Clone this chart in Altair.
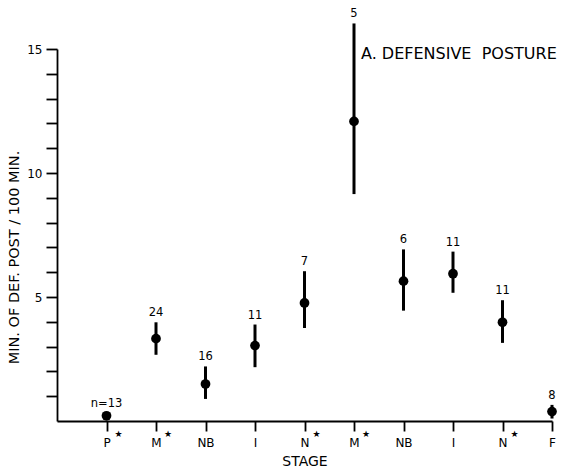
import altair as alt
import pandas as pd

stages = ["P", "M", "NB", "I", "N", "M", "NB", "I", "N", "F"]
starred = [True, True, False, False, True, True, False, False, True, False]
positions = [1, 2, 3, 4, 5, 6, 7, 8, 9, 10]
means = [0.21, 3.32, 1.49, 3.04, 4.76, 12.08, 5.64, 5.94, 3.98, 0.38]
lows = [0.21, 2.67, 0.89, 2.17, 3.75, 9.15, 4.45, 5.17, 3.15, 0.10]
highs = [0.32, 3.98, 2.20, 3.89, 6.04, 16.03, 6.92, 6.83, 4.87, 0.65]
n_labels = ["n=13", "24", "16", "11", "7", "5", "6", "11", "11", "8"]
y_ticks = list(range(1, 16))

df = pd.DataFrame({
    "pos": positions,
    "stage": stages,
    "starred": starred,
    "mean": means,
    "lo": lows,
    "hi": highs,
    "n": n_labels,
})

FONT = "DejaVu Sans"
label_expr = "[" + ",".join("'%s'" % s for s in stages) + "][datum.value - 1]"

xscale = alt.Scale(domain=[0, 10], nice=False, zero=False)
yscale = alt.Scale(domain=[0, 15], nice=False)

base = alt.Chart(df)

x_enc = alt.X(
    "pos:Q", scale=xscale,
    axis=alt.Axis(
        title="STAGE", values=positions, tickCount=20, labelExpr=label_expr,
        tickSize=10, labelPadding=6, labelFontSize=12, titleFontSize=14,
        titlePadding=6, grid=False, labelFont=FONT, titleFont=FONT,
        titleFontWeight="normal", labelOverlap=False, labelFlush=False,
    ),
)
y_axis = alt.Axis(
    title="MIN. OF DEF. POST / 100 MIN.", values=y_ticks, tickCount=30,
    labelExpr="datum.value % 5 == 0 ? datum.value : ''",
    tickSize=11, labelPadding=4, labelFontSize=12, titleFontSize=14.5,
    grid=False, labelFont=FONT, titleFont=FONT, titleFontWeight="normal",
    titleX=-43, titleY=208, titleAngle=270, titleBaseline="middle",
    titleAlign="center", labelOverlap=False, labelFlush=False,
)

bars = base.mark_rule(color="black", strokeWidth=3).encode(
    x=x_enc, y=alt.Y("lo:Q", scale=yscale, axis=y_axis), y2="hi:Q"
)
dots = base.mark_point(filled=True, shape="circle", size=95, color="black", opacity=1).encode(
    x=alt.X("pos:Q", scale=xscale), y=alt.Y("mean:Q", scale=yscale, axis=y_axis)
)
labels = base.mark_text(dy=-9, fontSize=11.5, font=FONT, color="black", baseline="middle").encode(
    x=alt.X("pos:Q", scale=xscale), y=alt.Y("hi:Q", scale=yscale, axis=y_axis), text="n:N"
)
stars = base.transform_filter("datum.starred").transform_calculate(
    zero="0", star="'★'"
).mark_text(dx=12, dy=13, fontSize=9, font=FONT, color="black", baseline="middle").encode(
    x=alt.X("pos:Q", scale=xscale), y=alt.Y("zero:Q", scale=yscale, axis=y_axis), text="star:N"
)
title = alt.Chart(pd.DataFrame({"t": ["A. DEFENSIVE\u00a0\u00a0POSTURE"]})).mark_text(
    align="left", baseline="middle", fontSize=16, font=FONT, color="black"
).encode(x=alt.value(304), y=alt.value(5), text="t:N")

chart = alt.layer(bars, dots, labels, stars, title).properties(
    width=495, height=372,
    autosize="none",
    padding={"left": 57, "top": 49, "right": 12, "bottom": 52},
).configure_view(stroke=None).configure_axis(
    domainColor="black", tickColor="black", labelColor="black", titleColor="black",
    domainWidth=1.8, tickWidth=1.8,
)

chart.save("out.html", embed_options={"renderer": "svg", "actions": False})
